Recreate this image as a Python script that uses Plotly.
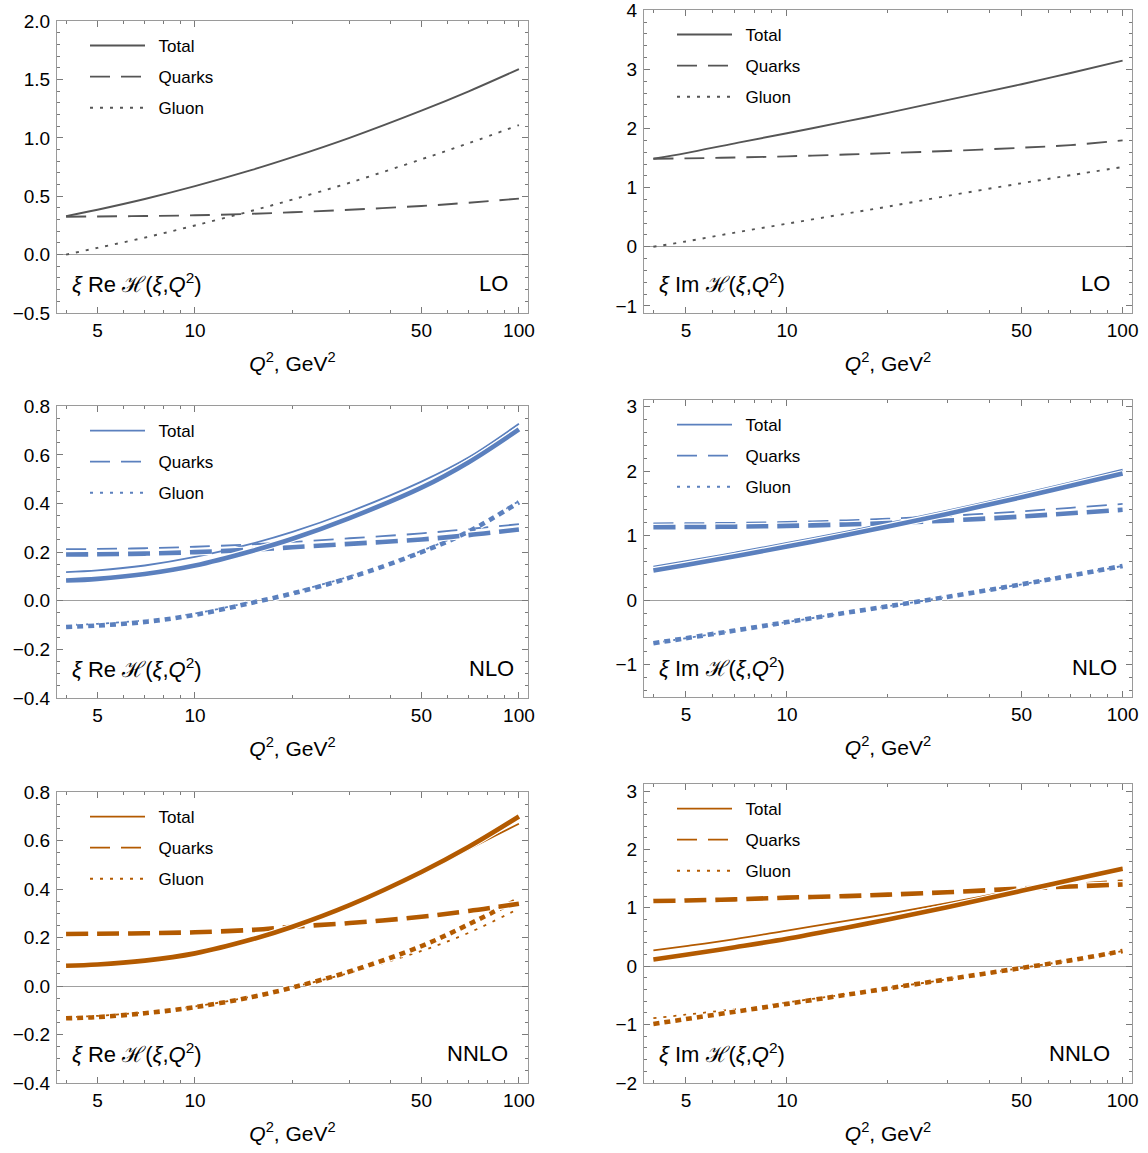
import plotly.graph_objects as go

# ---------------- data ----------------
Q2 = [4, 5, 7, 10, 15, 20, 30, 50, 70, 100]

# LO, Re
LO_re_total  = [0.33, 0.385, 0.477, 0.587, 0.726, 0.835, 1.001, 1.234, 1.40, 1.59]
LO_re_quarks = [0.325, 0.327, 0.331, 0.337, 0.35, 0.363, 0.385, 0.417, 0.445, 0.48]
LO_re_gluon  = [0.0, 0.058, 0.146, 0.25, 0.376, 0.472, 0.616, 0.817, 0.955, 1.11]
# LO, Im
LO_im_total  = [1.49, 1.585, 1.75, 1.92, 2.12, 2.265, 2.48, 2.75, 2.94, 3.15]
LO_im_quarks = [1.49, 1.495, 1.51, 1.53, 1.56, 1.585, 1.62, 1.675, 1.72, 1.80]
LO_im_gluon  = [0.0, 0.09, 0.24, 0.39, 0.56, 0.68, 0.86, 1.075, 1.21, 1.35]

# NLO, Re (two variants: thin / thick)
NLO_re_total_a  = [0.118, 0.125, 0.145, 0.18, 0.235, 0.283, 0.366, 0.49, 0.59, 0.728]
NLO_re_total_b  = [0.083, 0.09, 0.11, 0.145, 0.205, 0.255, 0.34, 0.465, 0.57, 0.705]
NLO_re_quarks_a = [0.212, 0.213, 0.216, 0.222, 0.232, 0.242, 0.257, 0.277, 0.295, 0.315]
NLO_re_quarks_b = [0.19, 0.191, 0.194, 0.20, 0.21, 0.22, 0.234, 0.252, 0.27, 0.293]
NLO_re_gluon_a  = [-0.10, -0.095, -0.08, -0.052, -0.004, 0.035, 0.10, 0.205, 0.29, 0.41]
NLO_re_gluon_b  = [-0.108, -0.102, -0.087, -0.058, -0.008, 0.03, 0.095, 0.20, 0.285, 0.405]
# NLO, Im
NLO_im_total_a  = [0.52, 0.604, 0.737, 0.885, 1.062, 1.194, 1.387, 1.646, 1.824, 2.02]
NLO_im_total_b  = [0.46, 0.546, 0.68, 0.83, 1.008, 1.141, 1.336, 1.594, 1.773, 1.96]
NLO_im_quarks_a = [1.19, 1.192, 1.198, 1.212, 1.237, 1.262, 1.305, 1.375, 1.43, 1.49]
NLO_im_quarks_b = [1.13, 1.132, 1.138, 1.15, 1.172, 1.194, 1.232, 1.295, 1.345, 1.40]
NLO_im_gluon_a  = [-0.667, -0.59, -0.47, -0.34, -0.195, -0.095, 0.05, 0.245, 0.38, 0.53]
NLO_im_gluon_b  = [-0.667, -0.59, -0.47, -0.34, -0.195, -0.095, 0.05, 0.245, 0.38, 0.53]

# NNLO, Re
NNLO_re_total_a  = [0.084, 0.089, 0.105, 0.135, 0.19, 0.238, 0.332, 0.462, 0.565, 0.67]
NNLO_re_total_b  = [0.084, 0.089, 0.105, 0.135, 0.193, 0.245, 0.334, 0.471, 0.575, 0.70]
NNLO_re_quarks_a = [0.219, 0.220, 0.222, 0.226, 0.236, 0.249, 0.264, 0.289, 0.31, 0.332]
NNLO_re_quarks_b = [0.215, 0.216, 0.218, 0.222, 0.232, 0.245, 0.26, 0.286, 0.31, 0.34]
NNLO_re_gluon_a  = [-0.128, -0.123, -0.108, -0.084, -0.043, -0.005, 0.055, 0.145, 0.22, 0.32]
NNLO_re_gluon_b  = [-0.133, -0.128, -0.112, -0.087, -0.045, -0.006, 0.06, 0.165, 0.255, 0.36]
# NNLO, Im
NNLO_im_total_a  = [0.27, 0.345, 0.465, 0.61, 0.775, 0.895, 1.08, 1.33, 1.505, 1.69]
NNLO_im_total_b  = [0.115, 0.195, 0.325, 0.47, 0.66, 0.80, 1.01, 1.29, 1.475, 1.67]
NNLO_im_quarks_a = [1.14, 1.145, 1.16, 1.19, 1.22, 1.25, 1.29, 1.36, 1.41, 1.47]
NNLO_im_quarks_b = [1.117, 1.125, 1.145, 1.174, 1.20, 1.226, 1.266, 1.33, 1.365, 1.40]
NNLO_im_gluon_a  = [-0.89, -0.83, -0.735, -0.62, -0.48, -0.375, -0.225, -0.03, 0.10, 0.26]
NNLO_im_gluon_b  = [-0.99, -0.905, -0.78, -0.645, -0.49, -0.38, -0.225, -0.03, 0.10, 0.26]

series_names = ["Total", "Quarks", "Gluon"]
x_tickvals = [5, 10, 50, 100]
x_ticktext = ["5", "10", "50", "100"]
x_minorvals = [4, 6, 7, 8, 9, 20, 30, 40, 60, 70, 80, 90]

# ---------------- styling ----------------
W, H = 1148, 1153
FONT = "Liberation Sans, Arial, Helvetica, sans-serif"
GRAY = "#555555"
BLUE = "#5B80BE"
ORANGE = "#B35A00"
FRAME = "#9a9a9a"
TICK = "#7a7a7a"

def px_x(p):
    return p / W

def px_y(p):
    return 1 - p / H

panels = [
    dict(thin=[LO_re_total, LO_re_quarks, LO_re_gluon], thick=None, color=GRAY, order="LO", part="Re",
         box=(57, 528, 21, 313), yr=[-0.5, 2.002], dt=0.5, mdt=0.1, fmt=".1f", ordpad=18),
    dict(thin=[LO_im_total, LO_im_quarks, LO_im_gluon], thick=None, color=GRAY, order="LO", part="Im",
         box=(644, 1132, 10, 313), yr=[-1.12, 4.005], dt=1, mdt=0.2, fmt="d", ordpad=20),
    dict(thin=[NLO_re_total_a, NLO_re_quarks_a, NLO_re_gluon_a],
         thick=[NLO_re_total_b, NLO_re_quarks_b, NLO_re_gluon_b], color=BLUE, order="NLO", part="Re",
         box=(57, 528, 406, 698), yr=[-0.4, 0.801], dt=0.2, mdt=0.05, fmt=".1f", ordpad=12),
    dict(thin=[NLO_im_total_a, NLO_im_quarks_a, NLO_im_gluon_a],
         thick=[NLO_im_total_b, NLO_im_quarks_b, NLO_im_gluon_b], color=BLUE, order="NLO", part="Im",
         box=(644, 1132, 400, 697), yr=[-1.5, 3.1], dt=1, mdt=0.2, fmt="d", ordpad=13),
    dict(thin=[NNLO_re_total_a, NNLO_re_quarks_a, NNLO_re_gluon_a],
         thick=[NNLO_re_total_b, NNLO_re_quarks_b, NNLO_re_gluon_b], color=ORANGE, order="NNLO", part="Re",
         box=(57, 528, 792, 1083), yr=[-0.4, 0.801], dt=0.2, mdt=0.05, fmt=".1f", ordpad=18),
    dict(thin=[NNLO_im_total_a, NNLO_im_quarks_a, NNLO_im_gluon_a],
         thick=[NNLO_im_total_b, NNLO_im_quarks_b, NNLO_im_gluon_b], color=ORANGE, order="NNLO", part="Im",
         box=(644, 1132, 784, 1083), yr=[-2.0, 3.12], dt=1, mdt=0.2, fmt="d", ordpad=20),
]

thin_dash = ["solid", "20px,11px", "3px,7px"]
thick_dash = ["solid", "22px,9px", "6px,5px"]
THIN_W = 1.8
THICK_W = 4.6

xr = [0.5741, 2.028]

fig = go.Figure()
layout = dict(width=W, height=H, margin=dict(l=0, r=0, t=0, b=0),
              paper_bgcolor="white", plot_bgcolor="white",
              font=dict(family=FONT, size=19, color="black"),
              annotations=[])

for i, p in enumerate(panels):
    k = i + 1
    xa = "x" if k == 1 else f"x{k}"
    ya = "y" if k == 1 else f"y{k}"
    lg = "legend" if k == 1 else f"legend{k}"
    x0, x1, y0, y1 = p["box"]
    # thin curves (with legend)
    for j, (name, ys) in enumerate(zip(series_names, p["thin"])):
        fig.add_trace(go.Scatter(
            x=Q2, y=ys, mode="lines", name="\u2002" + name, legend=lg, legendgroup=f"{k}{name}",
            line=dict(color=p["color"], width=THIN_W if p["thick"] else 1.9,
                      dash=thin_dash[j], shape="spline", smoothing=1.0),
            xaxis=xa, yaxis=ya, showlegend=True, hoverinfo="skip"))
    # thick curves with white halo
    if p["thick"]:
        for j in [2, 1, 0]:
            ys = p["thick"][j]
            fig.add_trace(go.Scatter(
                x=Q2, y=ys, mode="lines", legend=lg, showlegend=False,
                line=dict(color="white", width=THICK_W + 2.4, dash=thick_dash[j],
                          shape="spline", smoothing=1.0),
                xaxis=xa, yaxis=ya, hoverinfo="skip"))
            fig.add_trace(go.Scatter(
                x=Q2, y=ys, mode="lines", legend=lg, showlegend=False,
                line=dict(color=p["color"], width=THICK_W, dash=thick_dash[j],
                          shape="spline", smoothing=1.0),
                xaxis=xa, yaxis=ya, hoverinfo="skip"))

    xkey = "xaxis" if k == 1 else f"xaxis{k}"
    ykey = "yaxis" if k == 1 else f"yaxis{k}"
    layout[xkey] = dict(
        type="log", range=xr, domain=[px_x(x0), px_x(x1)], anchor=ya,
        showline=True, linecolor=FRAME, linewidth=1, mirror="ticks",
        ticks="inside", ticklen=6, tickcolor=TICK, tickwidth=1,
        tickmode="array", tickvals=x_tickvals, ticktext=x_ticktext,
        minor=dict(ticks="inside", ticklen=3, tickcolor=TICK, tickmode="array", tickvals=x_minorvals),
        showgrid=False, zeroline=False, automargin=False,
        tickfont=dict(size=19), ticklabeloverflow="allow",
        title=dict(text="<i>Q</i><sup>2</sup>, GeV<sup>2</sup>", font=dict(size=21), standoff=16),
    )
    layout[ykey] = dict(
        range=p["yr"], domain=[px_y(y1), px_y(y0)], anchor=xa,
        showline=True, linecolor=FRAME, linewidth=1, mirror="ticks",
        ticks="inside", ticklen=6, tickcolor=TICK, tickwidth=1,
        tick0=0, dtick=p["dt"], tickformat=p["fmt"],
        minor=dict(ticks="inside", ticklen=3, tickcolor=TICK, dtick=p["mdt"], tick0=0),
        showgrid=False, zeroline=True, zerolinecolor="#a0a0a0", zerolinewidth=1,
        automargin=False, tickfont=dict(size=19), ticklabelstandoff=2,
        ticklabeloverflow="allow",
    )
    # legend inside panel
    lx = x0 + 28
    ly = y0 + 7
    layout[lg] = dict(
        x=px_x(lx), y=px_y(ly), xanchor="left", yanchor="top",
        bgcolor="rgba(0,0,0,0)", borderwidth=0, font=dict(size=17, color="black"),
        itemwidth=55, tracegroupgap=6, traceorder="grouped",
    )
    # panel labels
    fn = "<i>ξ</i> " + p["part"] + " ℋ(<i>ξ</i>,<i>Q</i><sup>2</sup>)"
    layout["annotations"].append(dict(
        text=fn, xref="paper", yref="paper", x=px_x(x0 + 13), y=px_y(y1 - 30),
        xanchor="left", yanchor="middle", showarrow=False, font=dict(size=22, color="black")))
    layout["annotations"].append(dict(
        text=p["order"], xref="paper", yref="paper", x=px_x(x1 - p["ordpad"]), y=px_y(y1 - 30),
        xanchor="right", yanchor="middle", showarrow=False, font=dict(size=22, color="black")))

fig.update_layout(**layout)
fig.write_html("out.html")
